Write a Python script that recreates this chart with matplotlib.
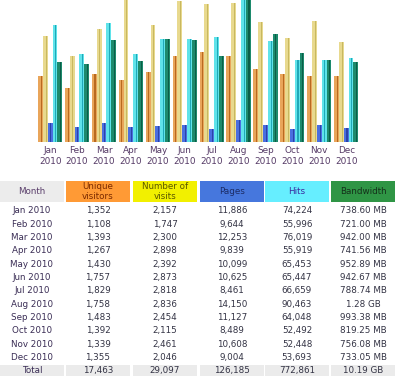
import matplotlib
matplotlib.use('Agg')
import matplotlib.pyplot as plt
from matplotlib.patches import Rectangle
import numpy as np

# monthly history data
months = ['Jan', 'Feb', 'Mar', 'Apr', 'May', 'Jun', 'Jul', 'Aug', 'Sep', 'Oct', 'Nov', 'Dec']
year = '2010'
visitors = [1352, 1108, 1393, 1267, 1430, 1757, 1829, 1758, 1483, 1392, 1339, 1355]
visits = [2157, 1747, 2300, 2898, 2392, 2873, 2818, 2836, 2454, 2115, 2461, 2046]
pages = [11886, 9644, 12253, 9839, 10099, 10625, 8461, 14150, 11127, 8489, 10608, 9004]
hits = [74224, 55996, 76019, 55919, 65453, 65447, 66659, 90463, 64048, 52492, 52448, 53693]
bandwidth_mb = [738.60, 721.00, 942.00, 741.56, 952.89, 942.67, 788.74, 1307.5, 993.38, 819.25, 756.08, 733.05]

headers = ['Month', 'Unique\nvisitors', 'Number of\nvisits', 'Pages', 'Hits', 'Bandwidth']
head_bg = ['#ececec', '#ff9a35', '#f2f000', '#4677dd', '#66eeff', '#2f9545']
head_fg = ['#5a3e6b', '#7a2a00', '#5a5600', '#1c2c66', '#3a2aa0', '#14301a']

bar_colors = ['#e9a55a', '#e8d98e', '#4a6ee0', '#5fe3ea', '#1d8a6c']
bar_dark = ['#b86a20', '#c8b860', '#2a44a8', '#20a8b8', '#0b5e48']


def fmt_bw(mb):
    if mb >= 1024:
        return '%.2f GB' % (mb / 1024)
    return '%.2f MB' % mb


W, H = 407, 386
fig = plt.figure(figsize=(W / 100, H / 100), dpi=100)

# bar chart, three value scales sharing the month axis
left, base, top, width = 38, 142, 0, 323
rect = [left / W, (H - base) / H, width / W, (base - top) / H]
ax1 = fig.add_axes(rect)
ax2 = fig.add_axes(rect, sharex=ax1)
ax3 = fig.add_axes(rect, sharex=ax1)
x = np.arange(len(months))
bw = 0.18
series = [(ax1, visitors), (ax1, visits), (ax2, pages), (ax2, hits), (ax3, bandwidth_mb)]
for k, (ax, vals) in enumerate(series):
    ax.bar(x + k * bw, vals, bw, align='edge', color=bar_colors[k], linewidth=0)
    ax.bar(x + k * bw + bw * 0.55, vals, bw * 0.22, align='edge', color=bar_dark[k], linewidth=0)
ax1.set_ylim(0, max(visits))
ax2.set_ylim(0, max(hits))
ax3.set_ylim(0, max(bandwidth_mb))
ax1.set_xlim(0, len(months))
for ax in (ax1, ax2, ax3):
    ax.patch.set_visible(False)
    for s in ax.spines.values():
        s.set_visible(False)
    ax.set_yticks([])
ax1.set_xticks(x + 2.5 * bw)
ax1.set_xticklabels([m + '\n' + year for m in months], fontsize=6.4, color='#553a66',
                    linespacing=1.25)
ax1.tick_params(axis='x', length=0, pad=3)
for ax in (ax2, ax3):
    ax.tick_params(axis='x', length=0, labelbottom=False)

# table below the chart
tab = fig.add_axes([0, 0, 1, 1])
tab.set_xlim(0, W)
tab.set_ylim(H, 0)
tab.axis('off')

col_x = [0, 66, 133, 200, 265, 331]
col_w = 64
for c, txt in enumerate(headers):
    tab.add_patch(Rectangle((col_x[c], 181), col_w, 21, facecolor=head_bg[c], edgecolor='none'))
    tab.text(col_x[c] + col_w / 2, 191.5, txt, ha='center', va='center', fontsize=6.3,
             color=head_fg[c], linespacing=1.05)

row0, dy = 210.7, 13.35
for i, m in enumerate(months):
    y = row0 + i * dy
    cells = [m + ' ' + year, '{:,}'.format(visitors[i]), '{:,}'.format(visits[i]),
             '{:,}'.format(pages[i]), '{:,}'.format(hits[i]), fmt_bw(bandwidth_mb[i])]
    for c, txt in enumerate(cells):
        tab.text(col_x[c] + col_w / 2, y, txt, ha='center', va='center', fontsize=6.3,
                 color='#3a2d55' if c == 0 else '#333344')

yt = row0 + len(months) * dy
totals = ['Total', '{:,}'.format(sum(visitors)), '{:,}'.format(sum(visits)),
          '{:,}'.format(sum(pages)), '{:,}'.format(sum(hits)), fmt_bw(sum(bandwidth_mb))]
for c, txt in enumerate(totals):
    tab.add_patch(Rectangle((col_x[c], yt - 5.5), col_w, 11, facecolor='#ebebeb', edgecolor='none'))
    tab.text(col_x[c] + col_w / 2, yt, txt, ha='center', va='center', fontsize=6.3,
             color='#3a2d55' if c == 0 else '#333344')

fig.savefig('out.png', dpi=100)
